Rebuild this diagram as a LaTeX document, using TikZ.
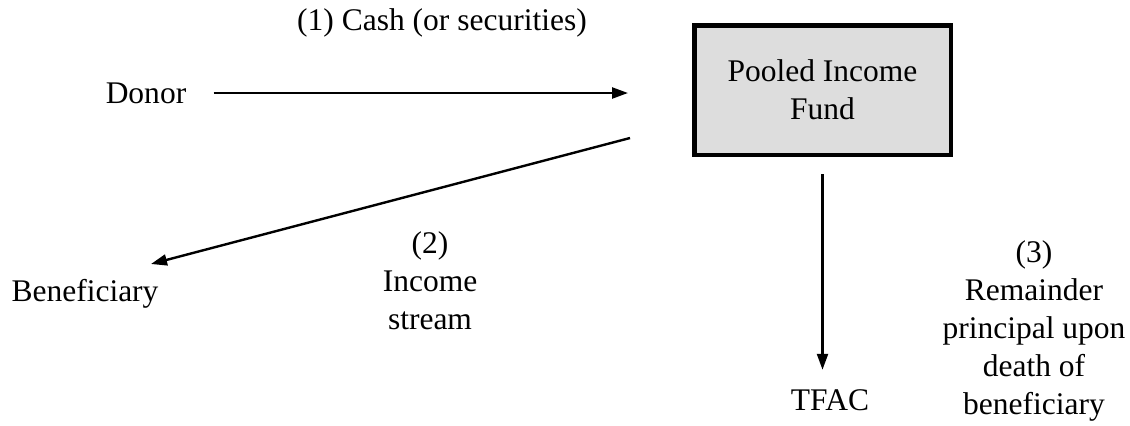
\documentclass[tikz,border=0pt]{standalone}
\usepackage{fontspec}
\setmainfont{Liberation Serif}
\usetikzlibrary{arrows.meta}
\definecolor{boxgray}{RGB}{221,221,221}
\tikzset{
  lbl/.style={inner sep=0pt, font=\fontsize{15.75}{19}\selectfont, align=center},
  fundbox/.style={lbl, draw=black, line width=2.25pt, fill=boxgray, minimum width=128.25pt, minimum height=64.75pt},
  flow/.style={line width=1.2pt, -{Triangle[length=8pt,width=5.5pt]}}
}
\begin{document}
\begin{tikzpicture}[x=0.5pt,y=-0.5pt]
\useasboundingbox (0,0) rectangle (1130,425);
\node[fundbox] (fund) at (822.5,90) {Pooled Income\\Fund};
\node[lbl, anchor=base] (donor) at (146,103) {Donor};
\node[lbl, anchor=base] (cash) at (442,30) {(1) Cash (or securities)};
\node[lbl, anchor=base] (benef) at (85,301) {Beneficiary};
\node[lbl] (income) at (430,281) {(2)\\Income\\stream};
\node[lbl, anchor=base] (tfac) at (830,410) {TFAC};
\node[lbl] (remainder) at (1034,331) {(3)\\Remainder\\principal upon\\death of\\beneficiary};
\coordinate (donorEnd) at (628,93);
\coordinate (incStart) at (630,138);
\coordinate (incEnd) at (151,264);
\draw[flow, shorten <=13.5pt] (donor.east |- donorEnd) -- (donorEnd);
\draw[flow] (incStart) -- (incEnd);
\draw[flow, shorten <=8.5pt, shorten >=9.5pt] (fund.south) -- (fund.south |- tfac.north);
\end{tikzpicture}
\end{document}
